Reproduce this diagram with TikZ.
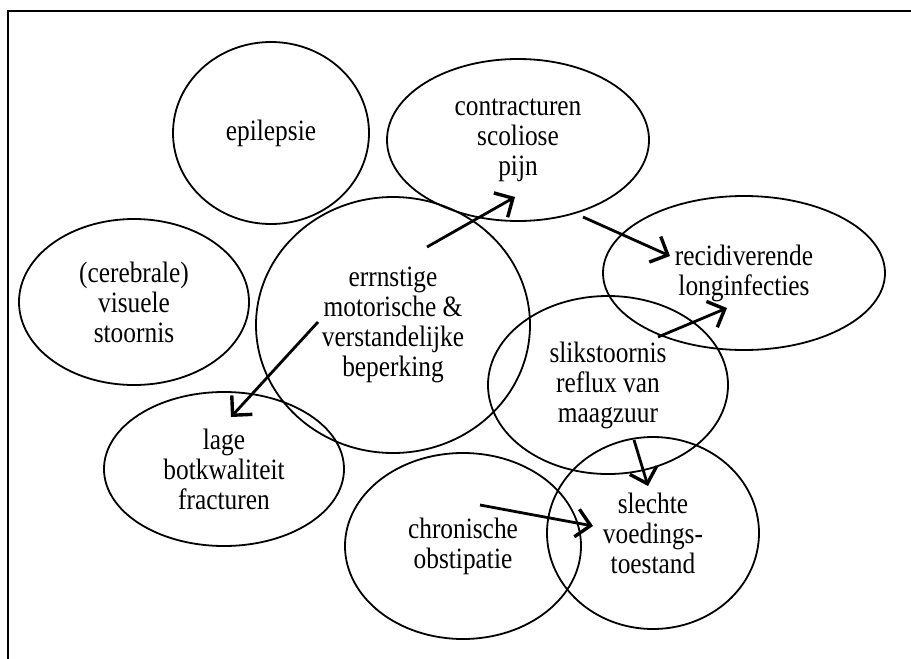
\documentclass[tikz,border=0pt]{standalone}
\usepackage{fontspec}
\setmainfont{Liberation Serif}
\newfontfamily\blobfont[FakeStretch=0.86]{Liberation Serif}
\usetikzlibrary{shapes.geometric,arrows.meta}

\begin{document}
\begin{tikzpicture}[x=1pt,y=-1pt,
  every node/.style={font=\blobfont\fontsize{29.5}{30}\selectfont},
  blob/.style={draw,ellipse,line width=1.8pt,inner sep=0pt,align=center},
  link/.style={-{Straight Barb[length=14pt,width=28pt,line width=3.4pt]},line width=2.8pt}]
  \useasboundingbox (0,0) rectangle (911,659);
  \draw[line width=2pt] (8,659) -- (8,11) -- (911,11);

  \node[blob,minimum width=196pt,minimum height=182pt] (epi) at (271,133) {epilepsie};
  \node[blob,minimum width=262pt,minimum height=162pt] (contr) at (518,140) {contracturen\\scoliose\\pijn};
  \node[blob,minimum width=230pt,minimum height=166pt] (cereb) at (134,302) {(cerebrale)\\visuele\\stoornis};
  \node[blob,minimum width=274pt,minimum height=256pt] (errn) at (393,325) {errnstige\\motorische \&\\verstandelijke\\beperking};
  \node[blob,minimum width=282pt,minimum height=154pt] (recid) at (744,273) {recidiverende\\longinfecties};
  \node[blob,minimum width=240pt,minimum height=178pt] (slik) at (608,385) {slikstoornis\\reflux van\\maagzuur};
  \node[blob,minimum width=240pt,minimum height=154pt] (lage) at (224,469) {lage\\botkwaliteit\\fracturen};
  \node[blob,minimum width=236pt,minimum height=186pt] (chron) at (463,546) {chronische\\obstipatie};
  \node[blob,minimum width=212pt,minimum height=192pt] (slecht) at (653,533) {slechte\\voedings-\\toestand};

  \coordinate (a0) at (427,247);
  \coordinate (a1) at (515,197);
  \coordinate (b0) at (583,217);
  \coordinate (b1) at (670,256);
  \coordinate (c0) at (318,322);
  \coordinate (c1) at (231,417);
  \coordinate (d0) at (658,337);
  \coordinate (d1) at (727,308);
  \coordinate (e0) at (634,440);
  \coordinate (e1) at (648,486);
  \coordinate (f0) at (480,505);
  \coordinate (f1) at (593,526);

  \path[link]
  (a0) edge (a1)
  (b0) edge (b1)
  (c0) edge (c1)
  (d0) edge (d1)
  (e0) edge (e1)
  (f0) edge (f1)
  ;
\end{tikzpicture}
\end{document}
